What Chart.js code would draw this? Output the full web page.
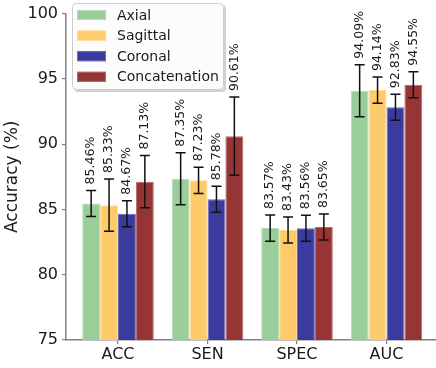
<!DOCTYPE html>
<html>
<head>
<meta charset="utf-8">
<script src="https://cdn.jsdelivr.net/npm/chart.js@4/dist/chart.umd.min.js"></script>
<style>
  html, body { margin: 0; padding: 0; background: #fff; }
  #wrap { width: 436px; height: 368px; }
</style>
</head>
<body>
<div id="wrap"><canvas id="c" width="436" height="368"></canvas></div>
<script>
// Metrics on the x axis
const categories = ['ACC', 'SEN', 'SPEC', 'AUC'];

// Mean scores (%) per view
const axial         = [85.46, 87.35, 83.57, 94.09];
const sagittal      = [85.33, 87.23, 83.43, 94.14];
const coronal       = [84.67, 85.78, 83.56, 92.83];
const concatenation = [87.13, 90.61, 83.65, 94.55];

// Standard deviations shown as error bars
const axialErr         = [1.0, 2.0, 1.0, 2.0];
const sagittalErr      = [2.0, 1.0, 1.0, 1.0];
const coronalErr       = [1.0, 1.0, 1.0, 1.0];
const concatenationErr = [2.0, 3.0, 1.0, 1.0];

const yTicks = [75, 80, 85, 90, 95, 100];

const FONT = "'DejaVu Sans', 'Liberation Sans', sans-serif";
const SPINE = '#808080';

const series = [
  { label: 'Axial',         values: axial,         err: axialErr,         color: '#99CD99', edge: '#B4DCB4' },
  { label: 'Sagittal',      values: sagittal,      err: sagittalErr,      color: '#FECB6A', edge: '#FFD98F' },
  { label: 'Coronal',       values: coronal,       err: coronalErr,       color: '#3B3B9E', edge: '#6A6AB8' },
  { label: 'Concatenation', values: concatenation, err: concatenationErr, color: '#963535', edge: '#B56868' }
];

const datasets = series.map(s => ({
  label: s.label,
  data: s.values.map((v, i) => ({ x: i, y: v })),
  errors: s.err,
  backgroundColor: s.color,
  borderColor: s.edge,
  borderWidth: 1,
  borderSkipped: 'bottom',
  categoryPercentage: 0.8,
  barPercentage: 1.0
}));

// Error bars with caps, plus rotated value labels above each cap
const errorBarPlugin = {
  id: 'errorBars',
  afterDatasetsDraw(chart) {
    const ctx = chart.ctx;
    const y = chart.scales.y;
    ctx.save();
    chart.data.datasets.forEach((ds, di) => {
      const meta = chart.getDatasetMeta(di);
      meta.data.forEach((bar, i) => {
        const v = ds.data[i].y;
        const e = ds.errors[i];
        const x = bar.x;
        const yTop = y.getPixelForValue(v + e);
        const yBot = y.getPixelForValue(v - e);
        ctx.strokeStyle = '#111';
        ctx.lineWidth = 1.5;
        ctx.beginPath();
        ctx.moveTo(x, yTop); ctx.lineTo(x, yBot);
        ctx.moveTo(x - 5, yTop); ctx.lineTo(x + 5, yTop);
        ctx.moveTo(x - 5, yBot); ctx.lineTo(x + 5, yBot);
        ctx.stroke();

        ctx.save();
        ctx.translate(x, yTop - 6);
        ctx.rotate(-Math.PI / 2);
        ctx.font = '12.5px ' + FONT;
        ctx.fillStyle = '#1a1a1a';
        ctx.textAlign = 'left';
        ctx.textBaseline = 'middle';
        ctx.fillText(v.toFixed(2) + '%', 0, 0);
        ctx.restore();
      });
    });
    ctx.restore();
  }
};

// Framed legend in the upper-left corner of the plot
const legendPlugin = {
  id: 'boxLegend',
  afterDraw(chart) {
    const ctx = chart.ctx;
    const bx = 72, by = 3, bw = 152, bh = 87, r = 4;
    const rr = (x, y, w, h) => {
      ctx.beginPath();
      ctx.moveTo(x + r, y);
      ctx.arcTo(x + w, y, x + w, y + h, r);
      ctx.arcTo(x + w, y + h, x, y + h, r);
      ctx.arcTo(x, y + h, x, y, r);
      ctx.arcTo(x, y, x + w, y, r);
      ctx.closePath();
    };
    ctx.save();
    ctx.fillStyle = 'rgba(0,0,0,0.18)';
    rr(bx + 2, by + 2, bw, bh); ctx.fill();
    ctx.fillStyle = 'rgba(255,255,255,0.92)';
    rr(bx, by, bw, bh); ctx.fill();
    ctx.strokeStyle = '#cccccc';
    ctx.lineWidth = 1;
    rr(bx + 0.5, by + 0.5, bw - 1, bh - 1); ctx.stroke();

    chart.data.datasets.forEach((ds, i) => {
      const cy = 15 + i * 20.6;
      ctx.fillStyle = ds.backgroundColor;
      ctx.fillRect(77, cy - 5, 29, 10);
      ctx.strokeStyle = ds.borderColor;
      ctx.lineWidth = 1;
      ctx.strokeRect(77.5, cy - 4.5, 28, 9);
      ctx.fillStyle = '#1a1a1a';
      ctx.font = '14px ' + FONT;
      ctx.textAlign = 'left';
      ctx.textBaseline = 'middle';
      ctx.fillText(ds.label, 117, cy + 1);
    });
    ctx.restore();
  }
};

new Chart(document.getElementById('c'), {
  type: 'bar',
  data: { datasets },
  options: {
    responsive: false,
    animation: false,
    layout: { padding: { top: 9, right: 0, left: 0, bottom: 0 } },
    plugins: { legend: { display: false }, tooltip: { enabled: false } },
    scales: {
      x: {
        type: 'linear',
        offset: false,
        min: -0.581,
        max: 3.553,
        afterBuildTicks(scale) { scale.ticks = categories.map((c, i) => ({ value: i })); },
        afterFit(scale) { scale.height = 28; },
        grid: { display: true, offset: false, drawOnChartArea: false, drawTicks: true, tickLength: 4, color: SPINE, lineWidth: 1.2 },
        border: { display: true, color: SPINE, width: 1.5 },
        ticks: {
          padding: 1,
          autoSkip: false,
          maxRotation: 0,
          color: '#1a1a1a',
          font: { family: FONT, size: 16 },
          callback: (v) => categories[v] ?? ''
        }
      },
      y: {
        min: 75,
        max: 100,
        afterBuildTicks(scale) { scale.ticks = yTicks.map(v => ({ value: v })); },
        afterFit(scale) { scale.width = 66; },
        grid: { display: true, drawOnChartArea: false, drawTicks: true, tickLength: 4, color: SPINE, lineWidth: 1.2 },
        border: { display: true, color: SPINE, width: 1.5 },
        ticks: {
          padding: 4,
          color: '#1a1a1a',
          font: { family: FONT, size: 16 }
        },
        title: {
          display: true,
          text: 'Accuracy (%)',
          color: '#1a1a1a',
          font: { family: FONT, size: 17 },
          padding: { top: 2, bottom: 0 }
        }
      }
    }
  },
  plugins: [errorBarPlugin, legendPlugin]
});
</script>
</body>
</html>
